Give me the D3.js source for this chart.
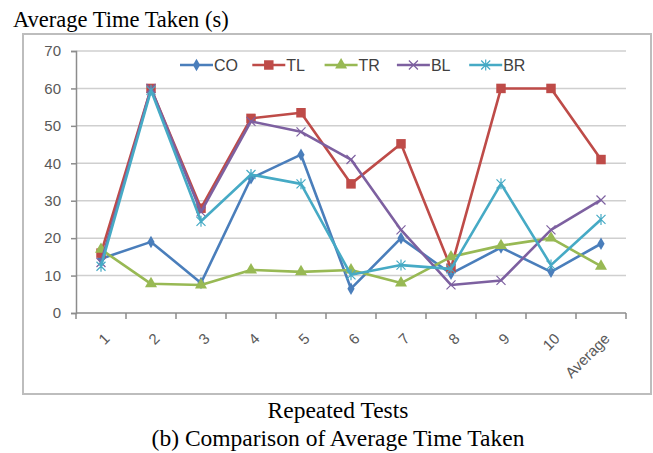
<!DOCTYPE html>
<html>
<head>
<meta charset="utf-8">
<script src="https://cdn.jsdelivr.net/npm/d3@7"></script>
<style>
  body { margin: 0; background: #fff; }
  svg { display: block; }
  .caption { font-family: "Liberation Serif", "Times New Roman", serif; fill: #000; }
  .tick text { font-family: "Liberation Sans", Arial, sans-serif; font-size: 14px; fill: #595959; }
</style>
</head>
<body>
<div id="chart"></div>
<script>
// chart size
var width = 653;
var height = 453;

// data
var categories = ["1", "2", "3", "4", "5", "6", "7", "8", "9", "10", "Average"];
var seriesNames = ["CO", "TL", "TR", "BL", "BR"];
var coValues = [14.5, 19, 8, 36, 42.3, 6.5, 20, 10.5, 17.5, 11, 18.5];
var tlValues = [16, 60, 28, 52, 53.5, 34.5, 45.2, 12, 60, 60, 41];
var trValues = [17, 7.8, 7.5, 11.5, 11, 11.5, 8, 15, 18, 20, 12.5];
var blValues = [13.5, 60, 27, 51.2, 48.4, 41, 22.2, 7.5, 8.7, 22.2, 30.2];
var brValues = [12.5, 59.5, 24.5, 37, 34.5, 10.2, 12.8, 11.8, 34.5, 12.8, 25];
var yTicks = [0, 10, 20, 30, 40, 50, 60, 70];

var colors = ["#4a7ebb", "#be4b48", "#98b954", "#7d60a0", "#46aac5"];
var markers = ["diamond", "square", "triangle", "x", "star"];
var seriesValues = [coValues, tlValues, trValues, blValues, brValues];

var margin = {top: 51, left: 76, right: 27, bottom: 140};

var svg = d3.select("#chart").append("svg")
  .attr("width", width)
  .attr("height", height);

// outer chart frame
svg.append("rect")
  .attr("x", 23).attr("y", 34)
  .attr("width", 628).attr("height", 360)
  .attr("fill", "none")
  .attr("stroke", "#bdbdbd")
  .attr("stroke-width", 2);

var x = d3.scaleBand()
  .domain(categories)
  .range([margin.left, width - margin.right]);

var y = d3.scaleLinear()
  .domain([0, 70])
  .range([height - margin.bottom, margin.top]);

// gridlines
svg.append("g")
  .selectAll("line")
  .data(yTicks.slice(1))
  .enter()
  .append("line")
  .attr("x1", margin.left).attr("x2", width - margin.right)
  .attr("y1", function(d) { return y(d); })
  .attr("y2", function(d) { return y(d); })
  .attr("stroke", "#cfcfcf")
  .attr("stroke-width", 1.5);

// y axis
var yAxis = svg.append("g")
  .attr("transform", "translate(" + margin.left + ",0)")
  .call(d3.axisLeft(y).tickValues(yTicks).tickSize(5).tickPadding(10));
yAxis.select(".domain").attr("stroke", "#8c8c8c").attr("stroke-width", 1.5);
yAxis.selectAll(".tick line").attr("stroke", "#8c8c8c").attr("stroke-width", 1.5);
yAxis.selectAll(".tick text").style("font-size", "15px");

// x axis, ticks at band boundaries
var xAxis = svg.append("g")
  .attr("transform", "translate(0," + y(0) + ")");
xAxis.append("line")
  .attr("x1", margin.left).attr("x2", width - margin.right)
  .attr("stroke", "#8c8c8c").attr("stroke-width", 1.5);
xAxis.selectAll(".xtick")
  .data(categories.concat(["end"]))
  .enter()
  .append("line")
  .attr("class", "xtick")
  .attr("x1", function(d, i) { return margin.left + i * x.step(); })
  .attr("x2", function(d, i) { return margin.left + i * x.step(); })
  .attr("y1", 0).attr("y2", 6)
  .attr("stroke", "#8c8c8c").attr("stroke-width", 1.5);
xAxis.selectAll(".xlabel")
  .data(categories)
  .enter()
  .append("text")
  .attr("class", "xlabel")
  .attr("transform", function(d) {
    return "translate(" + (x(d) + x.bandwidth() / 2 + 6) + ",23) rotate(-45)";
  })
  .attr("text-anchor", "end")
  .attr("dy", "0.35em")
  .style("font-family", "Liberation Sans, Arial, sans-serif")
  .style("font-size", "15px")
  .style("fill", "#595959")
  .text(function(d) { return d; });

// marker shapes
var markerPath = function(type, s) {
  if (type === "diamond") return d3.symbol().type(d3.symbolDiamond).size(s * 5)();
  if (type === "square") return d3.symbol().type(d3.symbolSquare).size(s * 10)();
  if (type === "triangle") return d3.symbol().type(d3.symbolTriangle).size(s * 7)();
  var r = s / 2;
  if (type === "x") return "M" + (-r) + "," + (-r) + "L" + r + "," + r + "M" + (-r) + "," + r + "L" + r + "," + (-r);
  return "M" + (-r) + "," + (-r) + "L" + r + "," + r + "M" + (-r) + "," + r + "L" + r + "," + (-r) + "M0," + (-r - 1) + "L0," + (r + 1);
};

var line = d3.line()
  .x(function(d, i) { return x(categories[i]) + x.bandwidth() / 2; })
  .y(function(d) { return y(d); });

seriesValues.forEach(function(vals, k) {
  var g = svg.append("g");
  g.append("path")
    .attr("d", line(vals))
    .attr("fill", "none")
    .attr("stroke", colors[k])
    .attr("stroke-width", 2.6)
    .attr("stroke-linejoin", "round");
  g.selectAll("path.mk")
    .data(vals)
    .enter()
    .append("path")
    .attr("class", "mk")
    .attr("transform", function(d, i) {
      return "translate(" + (x(categories[i]) + x.bandwidth() / 2) + "," + y(d) + ")";
    })
    .attr("d", markerPath(markers[k], 9))
    .attr("fill", markers[k] === "x" || markers[k] === "star" ? "none" : colors[k])
    .attr("stroke", colors[k])
    .attr("stroke-width", markers[k] === "x" || markers[k] === "star" ? 1.2 : 0);
});

// legend
var legend = svg.append("g")
  .selectAll("g")
  .data(seriesNames)
  .enter()
  .append("g")
  .attr("transform", function(d, i) { return "translate(" + (180 + i * 72.3) + ",65)"; });
legend.append("line")
  .attr("x1", 0).attr("x2", 33)
  .attr("stroke", function(d, i) { return colors[i]; })
  .attr("stroke-width", 2.6);
legend.append("path")
  .attr("transform", "translate(16.5,0)")
  .attr("d", function(d, i) { return markerPath(markers[i], 9); })
  .attr("fill", function(d, i) { return markers[i] === "x" || markers[i] === "star" ? "none" : colors[i]; })
  .attr("stroke", function(d, i) { return colors[i]; })
  .attr("stroke-width", function(d, i) { return markers[i] === "x" || markers[i] === "star" ? 1.2 : 0; });
legend.append("text")
  .attr("x", 34)
  .attr("dy", "0.35em")
  .style("font-family", "Liberation Sans, Arial, sans-serif")
  .style("font-size", "16px")
  .style("fill", "#404040")
  .text(function(d) { return d; });

// captions
svg.append("text").attr("class", "caption")
  .attr("x", 13).attr("y", 27)
  .style("font-size", "22.5px")
  .text("Average Time Taken (s)");
svg.append("text").attr("class", "caption")
  .attr("x", 338).attr("y", 418)
  .attr("text-anchor", "middle")
  .style("font-size", "23.5px")
  .text("Repeated Tests");
svg.append("text").attr("class", "caption")
  .attr("x", 338).attr("y", 446)
  .attr("text-anchor", "middle")
  .style("font-size", "23.5px")
  .text("(b) Comparison of Average Time Taken");
</script>
</body>
</html>
